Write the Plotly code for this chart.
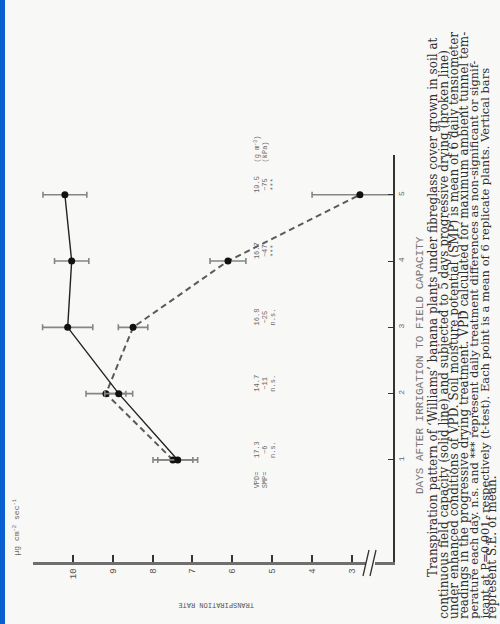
import plotly.graph_objects as go

# ---- data ----
days = [1, 2, 3, 4, 5]
fc_rate = [7.37, 8.85, 10.13, 10.03, 10.2]      # continuous field capacity (solid line)
fc_se = [0.5, 0.35, 0.63, 0.43, 0.55]
dry_rate = [7.49, 9.17, 8.49, 6.11, 2.80]       # progressive drying (broken line)
dry_se = [0.5, 0.5, 0.37, 0.45, 1.2]
vpd_text = ["17.3", "14.7", "16.8", "16.7", "19.5"]
smp_text = ["\u22126", "\u221211", "\u221225", "\u221247", "\u221275"]
sig_text = ["n.s.", "n.s.", "n.s.", "***", "***"]
rate_ticks = [3, 4, 5, 6, 7, 8, 9, 10]

caption_lines = [
    "Transpiration pattern of \u2018Williams\u2019 banana plants under fibreglass cover grown in soil at",
    "continuous field capacity (solid line) and subjected to 5 days progressive drying (broken line)",
    "under enhanced conditions of VPD. Soil moisture potential (SMP) is mean of 6 daily tensiometer",
    "readings in the progressive drying treatment. VPD calculated for maximum ambient tunnel tem-",
    "perature each day. n.s. and *** represent daily treatment differences as non-significant or signif-",
    "icant at P=0.001, respectively (t-test). Each point is a mean of 6 replicate plants. Vertical bars",
    "represent S.E. of mean.",
]

W, H = 500, 624
L, R, T, B = 33, 393, 155, 562


def px(X):
    return (X - L) / (R - L)


def py(Y):
    return (B - Y) / (B - T)


MONO = "Liberation Mono"
fig = go.Figure()

fig.add_trace(go.Scatter(
    x=dry_rate, y=days, mode="lines+markers",
    line=dict(color="#5a5a5a", width=2, dash="6px,4px"),
    marker=dict(color="#111111", size=7),
    error_x=dict(type="data", array=dry_se, color="#858585", thickness=1.6, width=3),
    showlegend=False,
))
fig.add_trace(go.Scatter(
    x=fc_rate, y=days, mode="lines+markers",
    line=dict(color="#222222", width=1.4),
    marker=dict(color="#111111", size=7),
    error_x=dict(type="data", array=fc_se, color="#858585", thickness=1.6, width=3),
    showlegend=False,
))

ann = []
txtcol = "#6a6a6a"
for d, v, s, g in zip(days, vpd_text, smp_text, sig_text):
    for X, t in ((257, v), (265, s), (273, g)):
        ann.append(dict(x=px(X), xref="paper", y=d + 0.15, yref="y", text=t,
                        textangle=-90, showarrow=False, xanchor="center", yanchor="middle",
                        font=dict(family=MONO, size=7, color=txtcol)))
# prefixes (day 1) and units (day 5)
for X, t in ((257, "VPD="), (265, "SMP=")):
    ann.append(dict(x=px(X), xref="paper", y=days[0] + 0.15 - 0.3, yref="y", text=t,
                    textangle=-90, showarrow=False, xanchor="center", yanchor="top",
                    font=dict(family=MONO, size=7, color=txtcol)))
for X, t in ((257, "(g m<sup>-3</sup>)"), (265, "(kPa)")):
    ann.append(dict(x=px(X), xref="paper", y=days[-1] + 0.15 + 0.3, yref="y", text=t,
                    textangle=-90, showarrow=False, xanchor="center", yanchor="bottom",
                    font=dict(family=MONO, size=7, color=txtcol)))

# axis titles
ann.append(dict(x=px(420), xref="paper", y=py(365), yref="paper",
                text="DAYS AFTER IRRIGATION TO FIELD CAPACITY", textangle=-90,
                showarrow=False, xanchor="center", yanchor="middle",
                font=dict(family=MONO, size=11, color="#777777")))
ann.append(dict(x=px(216), xref="paper", y=py(605), yref="paper",
                text="TRANSPIRATION RATE", textangle=180,
                showarrow=False, xanchor="center", yanchor="middle",
                font=dict(family=MONO, size=7, color="#555555")))
ann.append(dict(x=px(15), xref="paper", y=py(558), yref="paper",
                text="\u00b5g cm<sup>-2</sup> sec<sup>-1</sup>", textangle=-90,
                showarrow=False, xanchor="center", yanchor="bottom",
                font=dict(family=MONO, size=8, color="#666666")))

# caption (rotated, reading bottom-to-top)
cap_x = [433, 443.2, 453.4, 463.6, 473.8, 484, 492]
cap_start = [579, 621, 621, 621, 621, 621, 621]
cap_size = [12, 12, 12, 12, 11.4, 11.5, 12]
for X, Y0, sz, line in zip(cap_x, cap_start, cap_size, caption_lines):
    ann.append(dict(x=px(X), xref="paper", y=py(Y0), yref="paper", text=line,
                    textangle=-90, showarrow=False, xanchor="center", yanchor="bottom",
                    font=dict(family="DejaVu Serif", size=sz, color="#2e2e2e")))

shapes = [
    # blue strip at left edge of scan
    dict(type="rect", xref="paper", yref="paper", x0=px(0), x1=px(5), y0=py(H), y1=py(0),
         fillcolor="#0a5fd0", line=dict(width=0), layer="above"),
    # axis break
    dict(type="rect", xref="paper", yref="paper", x0=px(366), x1=px(375), y0=py(567), y1=py(557),
         fillcolor="#f8f8f6", line=dict(width=0), layer="above"),
    dict(type="line", xref="paper", yref="paper", x0=px(363), x1=px(369), y0=py(576), y1=py(550),
         line=dict(color="#333333", width=1.3), layer="above"),
    dict(type="line", xref="paper", yref="paper", x0=px(370), x1=px(376), y0=py(576), y1=py(550),
         line=dict(color="#333333", width=1.3), layer="above"),
]

bg = "#f8f8f6"
fig.update_layout(
    width=W, height=H,
    margin=dict(l=L, r=W - R, t=T, b=H - B, pad=0),
    paper_bgcolor=bg, plot_bgcolor=bg,
    annotations=ann, shapes=shapes,
    xaxis=dict(range=[11.0, 1.97], tickvals=rate_ticks, ticks="inside", ticklen=7,
               tickwidth=1.5, tickcolor="#333333", showline=True, linewidth=2.5,
               linecolor="#6f6f6f", tickangle=-90, showgrid=False, zeroline=False,
               tickfont=dict(family=MONO, size=9, color="#555555")),
    yaxis=dict(range=[-0.54, 5.6], tickvals=days, ticks="inside", ticklen=5,
               tickwidth=1.2, tickcolor="#333333", side="right", showline=True,
               linewidth=1.5, linecolor="#333333", tickangle=-90, showgrid=False,
               zeroline=False, tickfont=dict(family=MONO, size=8, color="#666666")),
)

fig.write_html("out.html")
